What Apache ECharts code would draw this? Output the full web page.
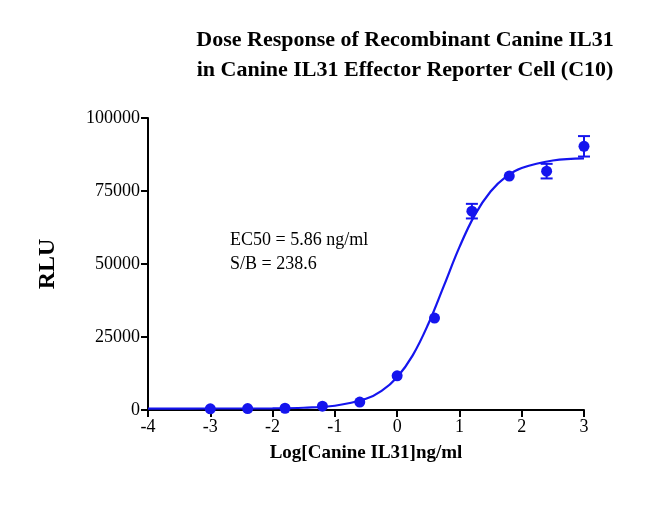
<!DOCTYPE html>
<html><head><meta charset="utf-8">
<script src="https://cdn.jsdelivr.net/npm/echarts@6/dist/echarts.min.js"></script>
<style>html,body{margin:0;padding:0;background:#fff}#c{width:663px;height:505px}</style>
</head><body><div id="c"></div>
<script>
const doseX = [-3, -2.4, -1.8, -1.2, -0.6, 0, 0.6, 1.2, 1.8, 2.4, 3];
const meanRLU = [400, 500, 600, 1300, 2700, 11700, 31500, 68100, 80100, 81800, 90300];
const errRLU = [0, 0, 0, 0, 0, 0, 0, 2500, 0, 2500, 3500];
const fitX = [-4, -3, -2, -1.5, -1, -0.5, -0.25, 0, 0.25, 0.5, 0.75, 1, 1.25, 1.5, 1.75, 2, 2.5, 3];
const fitY = [500, 506, 577, 775, 1466, 3833, 6556, 11250, 18720, 29450, 42510, 55770, 66900, 74830, 79900, 82870, 85440, 86200];
const xTicks = [-4, -3, -2, -1, 0, 1, 2, 3];
const yTicks = [0, 25000, 50000, 75000, 100000];
const blue = '#1515ee';
const chart = echarts.init(document.getElementById('c'));
const serif = 'Liberation Serif';
chart.setOption({
  animation: false,
  title: {text: 'Dose Response of Recombinant Canine IL31\nin Canine IL31 Effector Reporter Cell (C10)',
    left: 400, textAlign: 'center', top: 20,
    textStyle: {fontFamily: serif, fontWeight: 'bold', fontSize: 22, lineHeight: 30, color: '#000'}},
  grid: {left: 148, right: 79, top: 118, bottom: 95},
  xAxis: {type: 'value', min: -4, max: 3, interval: 1,
    name: 'Log[Canine IL31]ng/ml', nameLocation: 'middle', nameGap: 34,
    nameTextStyle: {fontFamily: serif, fontWeight: 'bold', fontSize: 19, color: '#000'},
    axisLine: {onZero: false, lineStyle: {color: '#000', width: 2}},
    axisTick: {show: true, length: 7, lineStyle: {color: '#000', width: 2}},
    axisLabel: {fontFamily: serif, fontSize: 18, color: '#000', margin: 8},
    splitLine: {show: false}},
  yAxis: {type: 'value', min: 0, max: 100000, interval: 25000,
    name: 'RLU', nameLocation: 'middle', nameGap: 88,
    nameTextStyle: {fontFamily: serif, fontWeight: 'bold', fontSize: 24, color: '#000'},
    axisLine: {show: true, onZero: false, lineStyle: {color: '#000', width: 2}},
    axisTick: {show: true, length: 7, lineStyle: {color: '#000', width: 2}},
    axisLabel: {fontFamily: serif, fontSize: 18, color: '#000', margin: 8, formatter: v => String(v)},
    splitLine: {show: false}},
  graphic: [{type: 'text', left: 230, top: 228,
    style: {text: 'EC50 = 5.86 ng/ml\nS/B = 238.6', font: '18px "Liberation Serif"', lineHeight: 24, fill: '#000'}}],
  series: [
    {type: 'line', data: fitX.map((x, i) => [x, fitY[i]]), smooth: 0.4, symbol: 'none',
      lineStyle: {color: blue, width: 2.2}, z: 2},
    {type: 'custom', data: doseX.map((x, i) => [x, meanRLU[i] - errRLU[i], meanRLU[i] + errRLU[i]]),
      renderItem: (params, api) => {
        const lo = api.coord([api.value(0), api.value(1)]);
        const hi = api.coord([api.value(0), api.value(2)]);
        if (api.value(2) - api.value(1) === 0) return null;
        const w = 6;
        const st = {stroke: blue, lineWidth: 2};
        return {type: 'group', children: [
          {type: 'line', shape: {x1: lo[0], y1: lo[1], x2: hi[0], y2: hi[1]}, style: st},
          {type: 'line', shape: {x1: lo[0] - w, y1: lo[1], x2: lo[0] + w, y2: lo[1]}, style: st},
          {type: 'line', shape: {x1: hi[0] - w, y1: hi[1], x2: hi[0] + w, y2: hi[1]}, style: st}]};
      }, z: 3},
    {type: 'scatter', data: doseX.map((x, i) => [x, meanRLU[i]]), symbolSize: 11,
      itemStyle: {color: blue, opacity: 1}, z: 4}
  ]
});
</script></body></html>
